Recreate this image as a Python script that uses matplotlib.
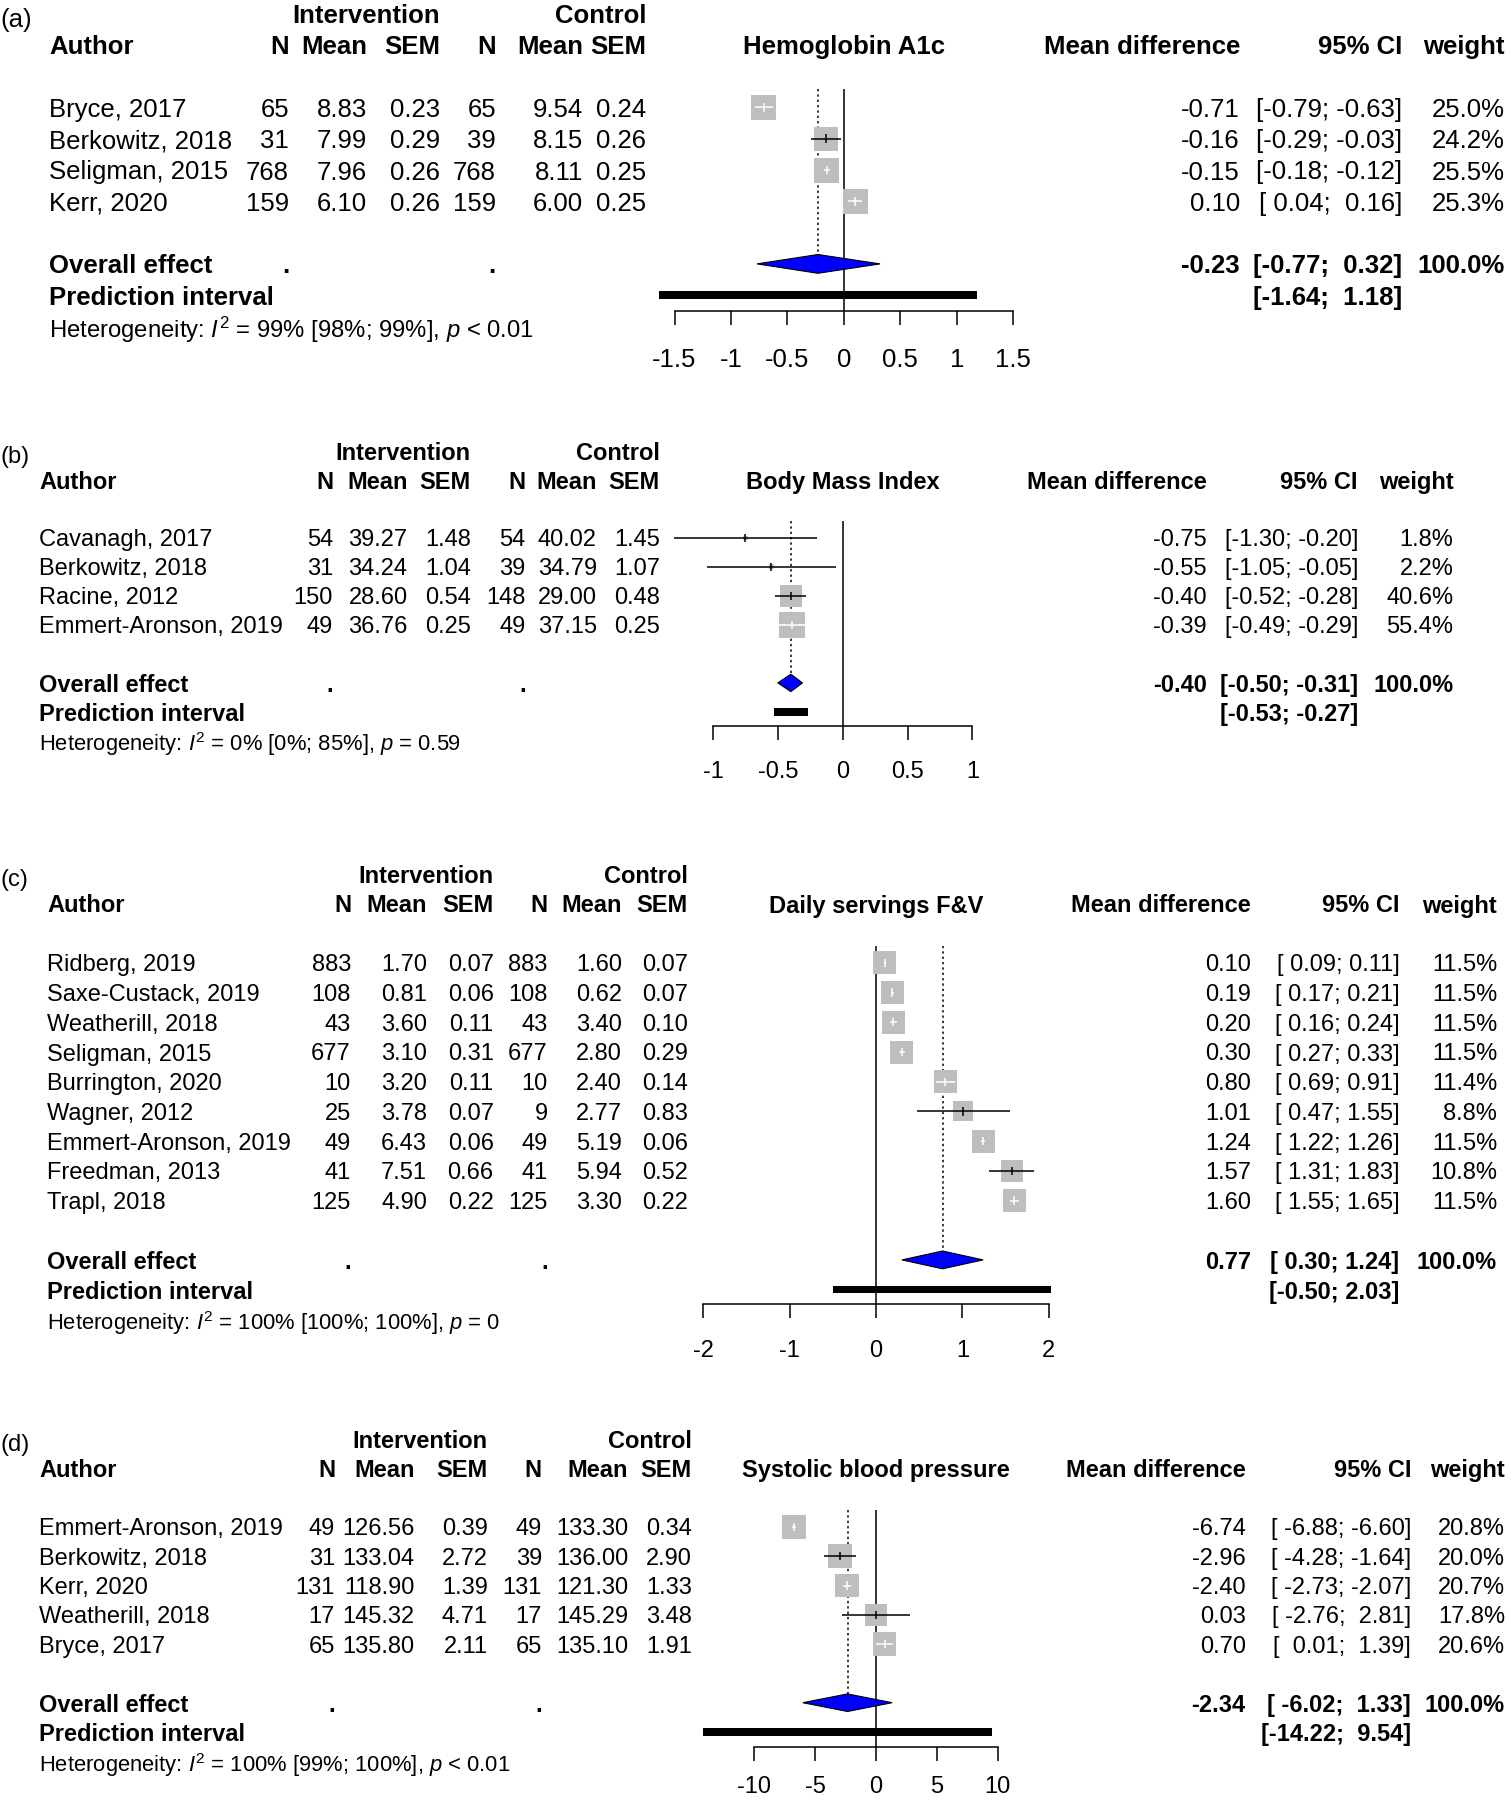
"""Four stacked forest plots (meta-analysis of mean differences)."""
import numpy as np
import matplotlib
matplotlib.use("Agg")
import matplotlib.pyplot as plt
from matplotlib.transforms import blended_transform_factory

plt.rcParams["font.family"] = ["Liberation Sans", "DejaVu Sans"]
plt.rcParams["mathtext.fontset"] = "custom"
plt.rcParams["mathtext.rm"] = "Liberation Sans"
plt.rcParams["mathtext.it"] = "Liberation Sans:italic"

# ---- (a) Hemoglobin A1c ----
hba_authors = ["Bryce, 2017", "Berkowitz, 2018", "Seligman, 2015", "Kerr, 2020"]
hba_int_n = [65, 31, 768, 159]
hba_int_mean = [8.83, 7.99, 7.96, 6.10]
hba_int_sem = [0.23, 0.29, 0.26, 0.26]
hba_ctl_n = [65, 39, 768, 159]
hba_ctl_mean = [9.54, 8.15, 8.11, 6.00]
hba_ctl_sem = [0.24, 0.26, 0.25, 0.25]
hba_md = [-0.71, -0.16, -0.15, 0.10]
hba_lo = [-0.79, -0.29, -0.18, 0.04]
hba_hi = [-0.63, -0.03, -0.12, 0.16]
hba_weight = [25.0, 24.2, 25.5, 25.3]
hba_overall = [-0.23, -0.77, 0.32]
hba_pred = [-1.64, 1.18]
hba_het = ["99%", "[98%; 99%]", "< 0.01"]
hba_ticks = [-1.5, -1, -0.5, 0, 0.5, 1, 1.5]
hba_ticklabels = ["-1.5", "-1", "-0.5", "0", "0.5", "1", "1.5"]

# ---- (b) Body Mass Index ----
bmi_authors = ["Cavanagh, 2017", "Berkowitz, 2018", "Racine, 2012", "Emmert-Aronson, 2019"]
bmi_int_n = [54, 31, 150, 49]
bmi_int_mean = [39.27, 34.24, 28.60, 36.76]
bmi_int_sem = [1.48, 1.04, 0.54, 0.25]
bmi_ctl_n = [54, 39, 148, 49]
bmi_ctl_mean = [40.02, 34.79, 29.00, 37.15]
bmi_ctl_sem = [1.45, 1.07, 0.48, 0.25]
bmi_md = [-0.75, -0.55, -0.40, -0.39]
bmi_lo = [-1.30, -1.05, -0.52, -0.49]
bmi_hi = [-0.20, -0.05, -0.28, -0.29]
bmi_weight = [1.8, 2.2, 40.6, 55.4]
bmi_overall = [-0.40, -0.50, -0.31]
bmi_pred = [-0.53, -0.27]
bmi_het = ["0%", "[0%; 85%]", "= 0.59"]
bmi_ticks = [-1, -0.5, 0, 0.5, 1]
bmi_ticklabels = ["-1", "-0.5", "0", "0.5", "1"]

# ---- (c) Daily servings F&V ----
fv_authors = ["Ridberg, 2019", "Saxe-Custack, 2019", "Weatherill, 2018", "Seligman, 2015",
              "Burrington, 2020", "Wagner, 2012", "Emmert-Aronson, 2019", "Freedman, 2013",
              "Trapl, 2018"]
fv_int_n = [883, 108, 43, 677, 10, 25, 49, 41, 125]
fv_int_mean = [1.70, 0.81, 3.60, 3.10, 3.20, 3.78, 6.43, 7.51, 4.90]
fv_int_sem = [0.07, 0.06, 0.11, 0.31, 0.11, 0.07, 0.06, 0.66, 0.22]
fv_ctl_n = [883, 108, 43, 677, 10, 9, 49, 41, 125]
fv_ctl_mean = [1.60, 0.62, 3.40, 2.80, 2.40, 2.77, 5.19, 5.94, 3.30]
fv_ctl_sem = [0.07, 0.07, 0.10, 0.29, 0.14, 0.83, 0.06, 0.52, 0.22]
fv_md = [0.10, 0.19, 0.20, 0.30, 0.80, 1.01, 1.24, 1.57, 1.60]
fv_lo = [0.09, 0.17, 0.16, 0.27, 0.69, 0.47, 1.22, 1.31, 1.55]
fv_hi = [0.11, 0.21, 0.24, 0.33, 0.91, 1.55, 1.26, 1.83, 1.65]
fv_weight = [11.5, 11.5, 11.5, 11.5, 11.4, 8.8, 11.5, 10.8, 11.5]
fv_overall = [0.77, 0.30, 1.24]
fv_pred = [-0.50, 2.03]
fv_het = ["100%", "[100%; 100%]", "= 0"]
fv_ticks = [-2, -1, 0, 1, 2]
fv_ticklabels = ["-2", "-1", "0", "1", "2"]

# ---- (d) Systolic blood pressure ----
sbp_authors = ["Emmert-Aronson, 2019", "Berkowitz, 2018", "Kerr, 2020", "Weatherill, 2018",
               "Bryce, 2017"]
sbp_int_n = [49, 31, 131, 17, 65]
sbp_int_mean = [126.56, 133.04, 118.90, 145.32, 135.80]
sbp_int_sem = [0.39, 2.72, 1.39, 4.71, 2.11]
sbp_ctl_n = [49, 39, 131, 17, 65]
sbp_ctl_mean = [133.30, 136.00, 121.30, 145.29, 135.10]
sbp_ctl_sem = [0.34, 2.90, 1.33, 3.48, 1.91]
sbp_md = [-6.74, -2.96, -2.40, 0.03, 0.70]
sbp_lo = [-6.88, -4.28, -2.73, -2.76, 0.01]
sbp_hi = [-6.60, -1.64, -2.07, 2.81, 1.39]
sbp_weight = [20.8, 20.0, 20.7, 17.8, 20.6]
sbp_overall = [-2.34, -6.02, 1.33]
sbp_pred = [-14.22, 9.54]
sbp_het = ["100%", "[99%; 100%]", "< 0.01"]
sbp_ticks = [-10, -5, 0, 5, 10]
sbp_ticklabels = ["-10", "-5", "0", "5", "10"]

W, H = 1511, 1800
fig = plt.figure(figsize=(W / 100, H / 100), dpi=100)

BOX_GREY = "#BEBEBE"


def fmt_ci(lo, hi, lo_w, hi_w):
    return f"[{lo:>{lo_w}.2f}; {hi:>{hi_w}.2f}]"


def draw_panel(label, title, data, lay):
    (authors, int_n, int_mean, int_sem, ctl_n, ctl_mean, ctl_sem,
     md, lo, hi, weight, overall, pred, het, ticks, ticklabels) = data
    n = len(authors)
    y0, row, zero, ppu = lay["y0"], lay["row"], lay["zero"], lay["ppu"]
    fs = lay["fs"]
    top, bot = lay["span"]

    ax = fig.add_axes([0, 1 - bot / H, 1, (bot - top) / H])
    ax.set_xlim(-zero / ppu, (W - zero) / ppu)
    ax.set_ylim((bot - y0) / row, (top - y0) / row)
    ax.patch.set_visible(False)
    tr = blended_transform_factory(fig.transFigure, ax.transData)

    def put(xpx, r, s, ha="right", bold=False, size=None):
        ax.text(xpx / W, r, s, transform=tr, ha=ha, va="center_baseline",
                fontweight="bold" if bold else "normal",
                fontsize=size or fs)

    c = lay["cols"]
    # headers
    put(0, -1 + 0.12, label, ha="left")
    put(c["sem"], -1, "Intervention", bold=True)
    put(c["sem2"], -1, "Control", bold=True)
    put(c["author"], 0, "Author", ha="left", bold=True)
    for key, txt in [("n", "N"), ("mean", "Mean"), ("sem", "SEM"),
                     ("n2", "N"), ("mean2", "Mean"), ("sem2", "SEM"),
                     ("md", "Mean difference"), ("ci", "95% CI"), ("w", "weight")]:
        put(c[key], 0, txt, bold=True)
    put(zero, 0, title, ha="center", bold=True)

    all_lo = list(lo) + [overall[1], pred[0]]
    all_hi = list(hi) + [overall[2], pred[1]]
    lo_w = max(len(f"{v:.2f}") for v in all_lo)
    hi_w = max(len(f"{v:.2f}") for v in all_hi)

    rows = np.arange(n) + 2
    for i, r in enumerate(rows):
        put(c["author"], r, authors[i], ha="left")
        put(c["n"], r, str(int_n[i]))
        put(c["mean"], r, f"{int_mean[i]:.2f}")
        put(c["sem"], r, f"{int_sem[i]:.2f}")
        put(c["n2"], r, str(ctl_n[i]))
        put(c["mean2"], r, f"{ctl_mean[i]:.2f}")
        put(c["sem2"], r, f"{ctl_sem[i]:.2f}")
        put(c["md"], r, f"{md[i]:.2f}")
        put(c["ci"], r, fmt_ci(lo[i], hi[i], lo_w, hi_w))
        put(c["w"], r, f"{weight[i]:.1f}%")

    r_all = n + 3
    r_pred = n + 4
    r_het = n + 5
    r_axis = n + 4.5
    put(c["author"], r_all, "Overall effect", ha="left", bold=True)
    put(c["n"], r_all, ".", bold=True)
    put(c["n2"], r_all, ".", bold=True)
    put(c["md"], r_all, f"{overall[0]:.2f}", bold=True)
    put(c["ci"], r_all, fmt_ci(overall[1], overall[2], lo_w, hi_w), bold=True)
    put(c["w"], r_all, "100.0%", bold=True)
    put(c["author"], r_pred, "Prediction interval", ha="left", bold=True)
    put(c["ci"], r_pred, fmt_ci(pred[0], pred[1], lo_w, hi_w), bold=True)
    put(c["author"], r_het,
        r"Heterogeneity: $I^2$ = " + het[0] + " " + het[1] + r", $p$ " + het[2],
        ha="left", size=fs * 0.93)

    # reference lines
    ax.vlines(0, 1.42, r_axis, color="black", lw=1.1, zorder=1)
    dh = 0.3
    ax.vlines(overall[0], 1.42, r_all - dh, color="black", lw=1.1,
              linestyles=(0, (1.5, 2)), zorder=1)

    # study boxes and CIs
    wmax = max(weight)
    side_px = lay["box"] * np.sqrt(np.array(weight) / wmax)
    ax.scatter(md, rows, s=(side_px * 0.72) ** 2, marker="s", color=BOX_GREY,
               linewidths=0, zorder=2)
    for i, r in enumerate(rows):
        inside = (hi[i] - lo[i]) * ppu < side_px[i]
        col = "white" if inside else "black"
        ax.hlines(r, lo[i], hi[i], color=col, lw=1.1, zorder=3)
        ax.vlines(md[i], r - 0.14, r + 0.14, color=col, lw=1.1, zorder=3)

    # overall diamond and prediction interval
    est, dlo, dhi = overall
    ax.fill([dlo, est, dhi, est], [r_all, r_all - dh, r_all, r_all + dh],
            facecolor="#0000FF", edgecolor="black", lw=0.8, zorder=4)
    ax.barh(r_pred, pred[1] - pred[0], left=pred[0], height=0.25,
            color="black", zorder=4)

    # x axis
    for s in ["top", "right", "left"]:
        ax.spines[s].set_visible(False)
    ax.spines["bottom"].set_position(("data", r_axis))
    ax.spines["bottom"].set_bounds(ticks[0], ticks[-1])
    ax.spines["bottom"].set_linewidth(1.1)
    ax.set_yticks([])
    ax.set_xticks(ticks, ticklabels)
    fs_px = fs / 0.72
    pad_px = 1.5 * row - 14 - 0.62 * fs_px + lay.get("label_shift", 6)
    ax.tick_params(axis="x", direction="out", length=10, width=1.1,
                   labelsize=fs, pad=pad_px * 0.72)


draw_panel("(a)", "Hemoglobin A1c",
           (hba_authors, hba_int_n, hba_int_mean, hba_int_sem, hba_ctl_n, hba_ctl_mean,
            hba_ctl_sem, hba_md, hba_lo, hba_hi, hba_weight, hba_overall, hba_pred,
            hba_het, hba_ticks, hba_ticklabels),
           dict(y0=44.8, row=31.3, zero=843.9, ppu=112.9, fs=18.5, box=25,
                span=(0, 400),
                cols=dict(author=49, n=289, mean=367, sem=440, n2=496, mean2=583,
                          sem2=646, md=1240, ci=1402, w=1505)))

draw_panel("(b)", "Body Mass Index",
           (bmi_authors, bmi_int_n, bmi_int_mean, bmi_int_sem, bmi_ctl_n, bmi_ctl_mean,
            bmi_ctl_sem, bmi_md, bmi_lo, bmi_hi, bmi_weight, bmi_overall, bmi_pred,
            bmi_het, bmi_ticks, bmi_ticklabels),
           dict(y0=479.9, row=29.0, zero=842.7, ppu=129.7, fs=17, box=26,
                span=(400, 830),
                cols=dict(author=39, n=333, mean=407.5, sem=470.7, n2=525.8, mean2=597,
                          sem2=660, md=1206.7, ci=1358, w=1453.5)))

draw_panel("(c)", "Daily servings F&V",
           (fv_authors, fv_int_n, fv_int_mean, fv_int_sem, fv_ctl_n, fv_ctl_mean,
            fv_ctl_sem, fv_md, fv_lo, fv_hi, fv_weight, fv_overall, fv_pred,
            fv_het, fv_ticks, fv_ticklabels),
           dict(y0=903.5, row=29.7, zero=876, ppu=86.4, fs=17, box=23,
                span=(830, 1390),
                cols=dict(author=47, n=351, mean=427, sem=493.7, n2=547.6, mean2=622,
                          sem2=687.7, md=1251, ci=1399.6, w=1497)))

draw_panel("(d)", "Systolic blood pressure",
           (sbp_authors, sbp_int_n, sbp_int_mean, sbp_int_sem, sbp_ctl_n, sbp_ctl_mean,
            sbp_ctl_sem, sbp_md, sbp_lo, sbp_hi, sbp_weight, sbp_overall, sbp_pred,
            sbp_het, sbp_ticks, sbp_ticklabels),
           dict(y0=1468.3, row=29.3, zero=876, ppu=12.17, fs=17, box=24,
                span=(1390, 1800), label_shift=0,
                cols=dict(author=39, n=335, mean=414.5, sem=488, n2=542, mean2=628,
                          sem2=692, md=1245.7, ci=1411, w=1505)))

fig.savefig("out.png", dpi=100, facecolor="white")
